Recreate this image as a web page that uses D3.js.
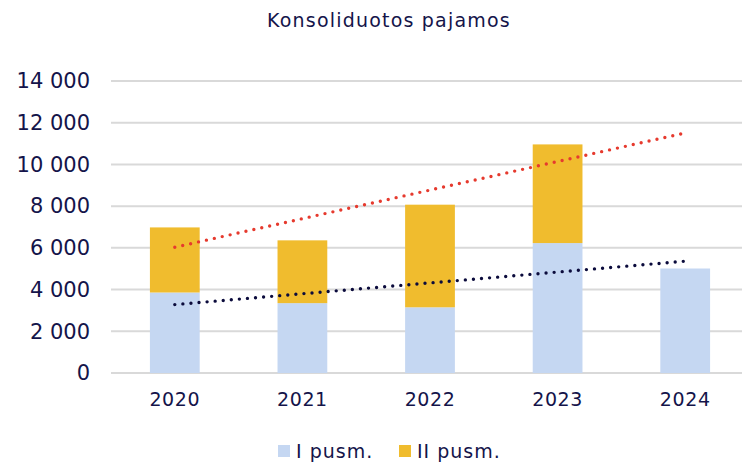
<!DOCTYPE html>
<html>
<head>
<meta charset="utf-8">
<script src="https://cdn.jsdelivr.net/npm/d3@7"></script>
<style>
  body { margin: 0; background: #fff; }
  svg { display: block; font-family: "DejaVu Sans", Verdana, sans-serif; }
</style>
</head>
<body>
<script>
// Data
const years = ['2020', '2021', '2022', '2023', '2024'];
const firstHalf = [3860, 3350, 3150, 6230, 5010];   // I pusm.
const secondHalf = [3120, 3010, 4920, 4730, 0];     // II pusm.
const yTicks = [0, 2000, 4000, 6000, 8000, 10000, 12000, 14000];
// linear trend end points (2020 -> 2024)
const trendTotal = [6030, 11510];
const trendFirst = [3280, 5360];
const seriesNames = ['I pusm.', 'II pusm.'];
const colors = ['#C5D7F2', '#F0BC2E'];

const W = 742, H = 462;
const margin = {top: 81, right: -7, bottom: 89, left: 111};
const innerW = W - margin.left - margin.right;
const innerH = H - margin.top - margin.bottom;
const textColor = '#14144a';

const svg = d3.select('body').append('svg')
    .attr('width', W)
    .attr('height', H);

svg.append('text')
    .attr('x', 389)
    .attr('y', 27)
    .attr('text-anchor', 'middle')
    .attr('fill', textColor)
    .style('font-size', '19px')
    .style('letter-spacing', '1.2px')
    .text('Konsoliduotos pajamos');

const g = svg.append('g')
    .attr('transform', 'translate(' + margin.left + ',' + margin.top + ')');

const x = d3.scaleBand()
    .domain(years)
    .range([0, innerW])
    .paddingInner(0.61)
    .paddingOuter(0.305);

const y = d3.scaleLinear()
    .domain([0, 14000])
    .range([innerH, 0]);

// gridlines
g.selectAll('.grid')
    .data(yTicks)
    .enter().append('line')
    .attr('x1', 0)
    .attr('x2', innerW)
    .attr('y1', d => y(d))
    .attr('y2', d => y(d))
    .attr('stroke', '#d9d9d9')
    .attr('stroke-width', 2);

// y axis labels
const yAxis = g.append('g')
    .call(d3.axisLeft(y).tickValues(yTicks).tickSize(0).tickPadding(21)
        .tickFormat(d => d3.format(',')(d).replace(/,/g, ' ')));
yAxis.select('.domain').remove();
yAxis.selectAll('text')
    .attr('fill', textColor)
    .style('font-size', '21px')
    .style('font-family', '"DejaVu Sans", Verdana, sans-serif');

// x axis labels
const xAxis = g.append('g')
    .attr('transform', 'translate(0,' + innerH + ')')
    .call(d3.axisBottom(x).tickSize(0).tickPadding(19.5));
xAxis.select('.domain').remove();
xAxis.selectAll('text')
    .attr('fill', textColor)
    .style('font-size', '19px')
    .style('letter-spacing', '0.6px')
    .style('font-family', '"DejaVu Sans", Verdana, sans-serif');

// stacked bars
const rows = years.map((yr, i) => ({year: yr, a: firstHalf[i], b: secondHalf[i]}));
const stack = d3.stack().keys(['a', 'b'])(rows);

g.selectAll('.series')
    .data(stack)
    .enter().append('g')
    .attr('fill', (d, i) => colors[i])
    .selectAll('rect')
    .data(d => d.filter(p => p[1] > p[0]))
    .enter().append('rect')
    .attr('x', d => x(d.data.year))
    .attr('y', d => y(d[1]))
    .attr('width', x.bandwidth())
    .attr('height', d => y(d[0]) - y(d[1]));

// dotted trend lines
const cx = yr => x(yr) + x.bandwidth() / 2;
const trends = [
    {vals: trendTotal, color: '#E63A2E'},
    {vals: trendFirst, color: '#0b0b3c'}
];
g.selectAll('.trend')
    .data(trends)
    .enter().append('line')
    .attr('x1', cx(years[0]))
    .attr('x2', cx(years[years.length - 1]))
    .attr('y1', d => y(d.vals[0]))
    .attr('y2', d => y(d.vals[1]))
    .attr('stroke', d => d.color)
    .attr('stroke-width', 3.4)
    .attr('stroke-linecap', 'round')
    .attr('stroke-dasharray', '0 8.1');

// legend
const legend = svg.append('g');
const legendX = [278, 399];
seriesNames.forEach((name, i) => {
    legend.append('rect')
        .attr('x', legendX[i])
        .attr('y', 445)
        .attr('width', 12)
        .attr('height', 12)
        .attr('fill', colors[i]);
    legend.append('text')
        .attr('x', legendX[i] + 18)
        .attr('y', 458)
        .attr('fill', textColor)
        .style('font-size', '19px')
        .style('letter-spacing', '1px')
        .text(name);
});
</script>
</body>
</html>
